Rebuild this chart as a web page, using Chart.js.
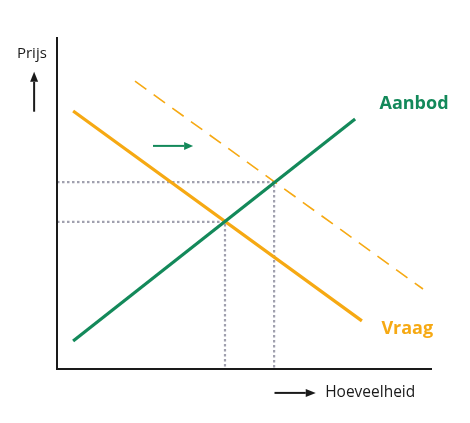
<!DOCTYPE html>
<html>
<head>
<meta charset="utf-8">
<script src="https://cdn.jsdelivr.net/npm/chart.js@4"></script>
<style>
html,body{margin:0;padding:0;background:#fff;}
canvas{display:block;}
</style>
</head>
<body>
<canvas id="c" width="470" height="423"></canvas>
<script>
// Data (abstract units: Hoeveelheid 0..10, Prijs 0..10)
const vraag = [{x:0.43,y:7.77},{x:8.13,y:1.45}];
const aanbod = [{x:0.43,y:0.84},{x:7.95,y:7.53}];
const vraagNieuw = [{x:2.08,y:8.67},{x:9.76,y:2.41}];
const evenwicht1 = {x:4.48,y:4.43};
const evenwicht2 = {x:5.79,y:5.63};
const verschuiving = [{x:2.56,y:6.72},{x:3.63,y:6.72}];
const axisMax = 10;
const labels = {prijs:'Prijs', hoeveelheid:'Hoeveelheid', aanbod:'Aanbod', vraag:'Vraag'};

const ORANGE = '#F6A913';
const GREEN = '#13895A';
const GREY = '#A0A0AE';
const BLACK = '#1a1a1a';

const dotted1 = [{x:0,y:evenwicht1.y},{x:evenwicht1.x,y:evenwicht1.y},{x:evenwicht1.x,y:0}];
const dotted2 = [{x:0,y:evenwicht2.y},{x:evenwicht2.x,y:evenwicht2.y},{x:evenwicht2.x,y:0}];
const axes = [{x:0,y:axisMax},{x:0,y:0},{x:axisMax,y:0}];

function arrow(ctx, x1, y1, x2, y2, color, lw, headLen, headW){
  const ang = Math.atan2(y2-y1, x2-x1);
  const bx = x2 - headLen*Math.cos(ang), by = y2 - headLen*Math.sin(ang);
  ctx.save();
  ctx.strokeStyle = color; ctx.fillStyle = color; ctx.lineWidth = lw;
  ctx.beginPath(); ctx.moveTo(x1,y1); ctx.lineTo(bx,by); ctx.stroke();
  ctx.beginPath();
  ctx.moveTo(x2,y2);
  ctx.lineTo(bx + headW/2*Math.sin(ang), by - headW/2*Math.cos(ang));
  ctx.lineTo(bx - headW/2*Math.sin(ang), by + headW/2*Math.cos(ang));
  ctx.closePath(); ctx.fill();
  ctx.restore();
}

const annot = {
  id:'annot',
  afterDatasetsDraw(chart){
    const ctx = chart.ctx, xs = chart.scales.x, ys = chart.scales.y;
    const X = v => xs.getPixelForValue(v), Y = v => ys.getPixelForValue(v);
    // shift arrow
    arrow(ctx, X(verschuiving[0].x), Y(verschuiving[0].y), X(verschuiving[1].x), Y(verschuiving[1].y), GREEN, 2, 9, 8);
    ctx.save();
    ctx.textBaseline = 'middle';
    ctx.font = '15px "Open Sans"';
    ctx.fillStyle = BLACK;
    ctx.textAlign = 'center';
    ctx.fillText(labels.prijs, X(-0.67), Y(9.5));
    ctx.textAlign = 'left';
    ctx.font = '15.5px "Open Sans"';
    ctx.fillText(labels.hoeveelheid, X(7.15), Y(-0.72));
    ctx.font = 'bold 18px "Open Sans"';
    ctx.fillStyle = GREEN;
    ctx.fillText(labels.aanbod, X(8.6), Y(7.98));
    ctx.fillStyle = ORANGE;
    ctx.fillText(labels.vraag, X(8.65), Y(1.2));
    ctx.restore();
    arrow(ctx, X(-0.61), Y(7.75), X(-0.61), Y(8.95), BLACK, 2, 10, 8);
    arrow(ctx, X(5.8), Y(-0.72), X(6.9), Y(-0.72), BLACK, 2, 10, 8);
  }
};

new Chart(document.getElementById('c'), {
  type:'scatter',
  data:{datasets:[
    {data:axes, showLine:true, borderColor:BLACK, borderWidth:2, pointRadius:0, order:0, clip:false},
    {data:aanbod, showLine:true, borderColor:GREEN, borderWidth:3.2, pointRadius:0, order:1, clip:false},
    {data:vraag, showLine:true, borderColor:ORANGE, borderWidth:3.2, pointRadius:0, order:2, clip:false},
    {data:vraagNieuw, showLine:true, borderColor:ORANGE, borderWidth:1.6, borderDash:[14,9], pointRadius:0, order:3, clip:false},
    {data:dotted1, showLine:true, borderColor:GREY, borderWidth:2.2, borderDash:[2.5,2.5], pointRadius:0, order:4, clip:false},
    {data:dotted2, showLine:true, borderColor:GREY, borderWidth:2.2, borderDash:[2.5,2.5], pointRadius:0, order:4, clip:false}
  ]},
  options:{
    responsive:false, animation:false,
    layout:{padding:{left:57,right:38,top:37,bottom:54}},
    plugins:{legend:{display:false}, tooltip:{enabled:false}},
    scales:{
      x:{type:'linear', min:0, max:axisMax, display:false},
      y:{type:'linear', min:0, max:axisMax, display:false}
    },
    elements:{line:{tension:0, borderCapStyle:'butt'}}
  },
  plugins:[annot]
});
</script>
</body>
</html>
